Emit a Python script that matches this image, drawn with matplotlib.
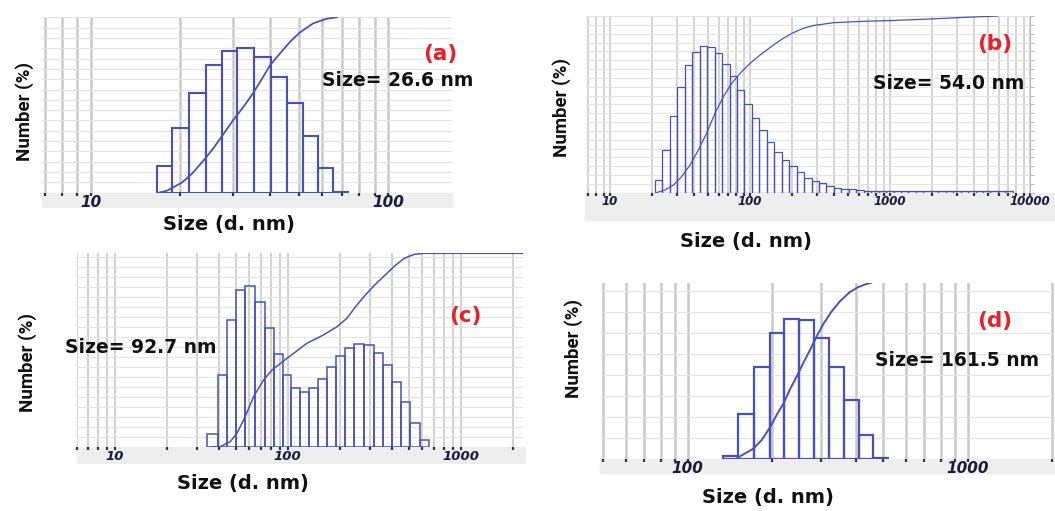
import numpy as np
import matplotlib
matplotlib.use('Agg')
import matplotlib.pyplot as plt
from matplotlib import font_manager
from matplotlib.patches import Rectangle
from matplotlib.ticker import LogLocator, NullFormatter, MultipleLocator

W, H = 1055, 511
plt.rcParams['font.family'] = ['DejaVu Sans']

# ---- panel (a) ----
a_edges = [16.7, 18.8, 21.3, 24.3, 27.5, 31.0, 35.4, 40.3, 45.6, 51.5, 58.0, 65.2, 73.5]
a_number = [2.6, 6.25, 9.7, 12.35, 13.75, 14.0, 13.15, 11.25, 8.65, 5.5, 2.35, 0.06]
a_cum_size = [16.9, 18.0, 20.2, 21.8, 23.9, 25.8, 27.5, 30.1, 32.6, 35.2, 38.0, 40.1, 43.3, 46.8, 50.5, 56.0, 62.2, 67.2]
a_cum_pct = [0, 1.1, 5.7, 10.6, 18.3, 25.3, 31.9, 41.4, 49.0, 57.0, 66.2, 72.8, 79.5, 86.1, 91.4, 96.6, 99.2, 100]

# ---- panel (b) ----
b_edges = [20.96, 23.7, 26.8, 30.3, 34.2, 38.7, 43.7, 49.4, 55.9, 63.2, 71.4, 80.7, 91.3,
           103.2, 116.6, 131.8, 149, 168.5, 190.5, 215.3, 243.4, 275.2, 311, 351.6, 397.5,
           449.4, 508, 574, 649, 734, 830, 938, 1060, 1198, 1355, 1532, 1731, 1957, 2213,
           2501, 2828, 3197, 3614, 4085, 4618, 5221, 5902, 6672, 7543]
b_number = [0.72, 2.43, 4.35, 6.0, 7.23, 7.98, 8.28, 8.23, 7.89, 7.27, 6.58, 5.8, 5.01,
            4.25, 3.57, 2.89, 2.32, 1.87, 1.51, 1.15, 0.85, 0.66, 0.53, 0.38, 0.29, 0.23,
            0.19, 0.14, 0.12, 0.11, 0.11, 0.11, 0.11, 0.11, 0.11, 0.11, 0.11, 0.11, 0.11,
            0.11, 0.11, 0.11, 0.11, 0.11, 0.11, 0.11, 0.11, 0.11]
b_cum_size = [21.3, 24.7, 28.4, 32.5, 37.3, 42.8, 49.0, 56.2, 64.5, 74.0, 84.8, 100, 118,
              147, 173, 204, 240, 283, 394, 645, 1000, 1930, 3340, 5900]
b_cum_pct = [0, 1.5, 4.3, 9.1, 15.7, 24.2, 33.6, 44.9, 54.3, 61.9, 67.5, 73.2, 77.9,
             83.6, 87.4, 90.6, 93.0, 94.6, 96.2, 97.0, 97.4, 98.3, 99.2, 100]

# ---- panel (c) ----
c_edges = [34.3, 39.7, 44.4, 50.1, 56.7, 64.2, 73.4, 82.7, 93.3, 104.8, 118.2, 133.2, 149.7,
           168.8, 191.1, 215.4, 243, 275.2, 314.5, 356.4, 402, 453, 513, 581, 655]
c_number = [0.67, 3.61, 6.36, 7.85, 8.05, 7.26, 5.99, 4.66, 3.61, 2.95, 2.78, 2.99, 3.42,
            4.01, 4.56, 4.97, 5.16, 5.11, 4.74, 4.12, 3.28, 2.28, 1.24, 0.39]
c_cum_size = [35.5, 40.6, 46.4, 50.8, 56.7, 63.4, 72.4, 81.0, 90.5, 98.9, 118, 129, 161,
              193, 220, 247, 281, 318, 366, 416, 472, 537, 610, 2300]
c_cum_pct = [0, 0.3, 2.9, 7.2, 15.8, 26.1, 34.7, 39.8, 43.2, 45.8, 51.0, 53.6, 57.9,
             62.2, 66.5, 72.5, 78.5, 83.6, 88.8, 93.5, 97.4, 99.4, 100, 100]

# ---- panel (d) ----
d_edges = [134, 151.6, 173, 196.8, 221.3, 250.4, 282.5, 319.6, 361.5, 409, 460, 520]
d_number = [0.35, 5.3, 10.9, 15.0, 16.7, 16.5, 14.4, 11.0, 7.0, 2.85, 0.05]
d_cum_size = [150.5, 171.5, 183.8, 196.8, 208.9, 220, 232, 245, 258.8, 274, 290, 305,
              326, 350, 378, 404, 430, 452]
d_cum_pct = [0.5, 5.7, 10.6, 17.8, 25.5, 31.5, 39.5, 46.6, 54.5, 62.0, 70.0, 76.5,
             83.5, 89.5, 94.5, 97.3, 99.0, 100]

BLUE = '#4a51b6'

installed = {f.name for f in font_manager.fontManager.ttflist}
if 'Liberation Sans Narrow' in installed:
    NARROW, NARROW_FS = 'Liberation Sans Narrow', 15
else:
    NARROW, NARROW_FS = 'Roboto', 13.5


def box(x0, y0, x1, y1):
    # pixel box (top-left origin) -> figure fraction [l, b, w, h]
    return [x0 / W, 1 - y1 / H, (x1 - x0) / W, (y1 - y0) / H]


def fx(x):
    return x / W


def fy(y):
    return 1 - y / H


def panel(fig, rect, strip, edges, number, cum_size, cum_pct, xlim, ylim, ystep,
          majors, bar_lw, grid_lw, tick_fs, curve_lw, right_axis=False):
    fig.patches.append(Rectangle((strip[0] / W, 1 - strip[3] / H),
                                 (strip[2] - strip[0]) / W, (strip[3] - strip[1]) / H,
                                 transform=fig.transFigure, color='#eeeeee', zorder=-1))
    ax = fig.add_axes(box(*rect))
    ax.set_xscale('log')
    ax.set_xlim(*xlim)
    ax.set_ylim(*ylim)
    ax.set_axisbelow(True)
    edges = np.array(edges)
    ax.bar(edges[:-1], number, width=np.diff(edges), align='edge', fill=False,
           edgecolor=BLUE, linewidth=bar_lw)

    ax.set_xticks(majors, labels=[f'{v:g}' for v in majors], fontsize=tick_fs,
                  fontstyle='italic', fontweight='bold', color='#1c1c38')
    ax.xaxis.set_minor_locator(LogLocator(base=10, subs=(2, 3, 4, 5, 6, 7, 8, 9), numticks=30))
    ax.xaxis.set_minor_formatter(NullFormatter())
    ax.yaxis.set_major_locator(MultipleLocator(ystep))
    ax.grid(True, which='both', axis='x', color='#c9c9c9', linewidth=grid_lw)
    ax.grid(True, which='major', axis='y', color='#e4e4e4', linewidth=0.8)
    ax.tick_params(axis='x', which='both', direction='out', length=2, width=1.6,
                   color='#333333', pad=0)
    for s in ax.spines.values():
        s.set_visible(False)

    ax2 = ax.twinx()
    ax2.set_ylim(0, 100)
    ax2.plot(cum_size, cum_pct, color=BLUE, linewidth=curve_lw)
    for s in ax2.spines.values():
        s.set_visible(False)
    if right_axis:
        ax2.spines['right'].set_visible(True)
        ax2.spines['right'].set_color('#bbbbbb')
        ax2.yaxis.set_major_locator(MultipleLocator(5))
        ax2.tick_params(axis='y', length=3, color='#bbbbbb', labelright=False)
    else:
        ax2.tick_params(axis='y', right=False, labelright=False)
    # twinx turns the left ticks back on
    ax.tick_params(axis='y', which='both', left=False, labelleft=False)
    return ax


fig = plt.figure(figsize=(W / 100, H / 100), dpi=100)

panel(fig, (42, 17.3, 452, 192.7), (42, 192.7, 452, 207), a_edges, a_number,
      a_cum_size, a_cum_pct, (6.84, 164), (0, 17), 1, [10, 100], 1.5, 1.8, 11, 1.3)
panel(fig, (586, 16, 1030, 192.7), (585, 192.7, 1055, 220), b_edges, b_number,
      b_cum_size, b_cum_pct, (6.74, 10000), (0, 10), 0.5, [10, 100, 1000, 10000],
      0.9, 1.1, 8.5, 0.9, right_axis=True)
panel(fig, (76.7, 253.3, 523, 447.3), (76.7, 447.3, 525, 462.7), c_edges, c_number,
      c_cum_size, c_cum_pct, (6.0, 2300), (0, 9.7), 0.5, [10, 100, 1000],
      1.1, 1.2, 9.5, 1.1)
panel(fig, (600.7, 282.7, 1055, 458.7), (600, 458.7, 1055, 473.3), d_edges, d_number,
      d_cum_size, d_cum_pct, (48.9, 2050), (0, 21), 2.5, [100, 1000],
      1.6, 1.8, 11, 1.4)

# panel tags and mean sizes
tags = ['(a)', '(b)', '(c)', '(d)']
tag_xy = [(440, 54), (995, 44), (465, 316), (995, 321)]
size_txt = ['Size= 26.6 nm', 'Size= 54.0 nm', 'Size= 92.7 nm', 'Size= 161.5 nm']
size_xy = [(322, 81), (873, 83), (65, 347), (875, 360.7)]
xlab_xy = [(229, 224.5), (746, 241.5), (242.5, 483.5), (767.5, 497.5)]
ylab_xy = [(25, 111), (562, 107), (27.5, 362), (574, 348)]

for t, (x, y) in zip(tags, tag_xy):
    fig.text(fx(x), fy(y), t, color='#e8202a', fontsize=15.5, fontweight='bold',
             ha='center', va='center')
for t, (x, y) in zip(size_txt, size_xy):
    fig.text(fx(x), fy(y), t, color='#111111', fontsize=13.5, fontweight='bold',
             ha='left', va='center')
for x, y in xlab_xy:
    fig.text(fx(x), fy(y), 'Size (d. nm)', color='#111111', fontsize=14,
             fontweight='bold', ha='center', va='center')
for x, y in ylab_xy:
    fig.text(fx(x), fy(y), 'Number (%)', color='#111111', fontsize=NARROW_FS,
             fontweight='bold', family=[NARROW, 'DejaVu Sans'], rotation=90,
             ha='center', va='center')

fig.savefig('out.png', dpi=100)
